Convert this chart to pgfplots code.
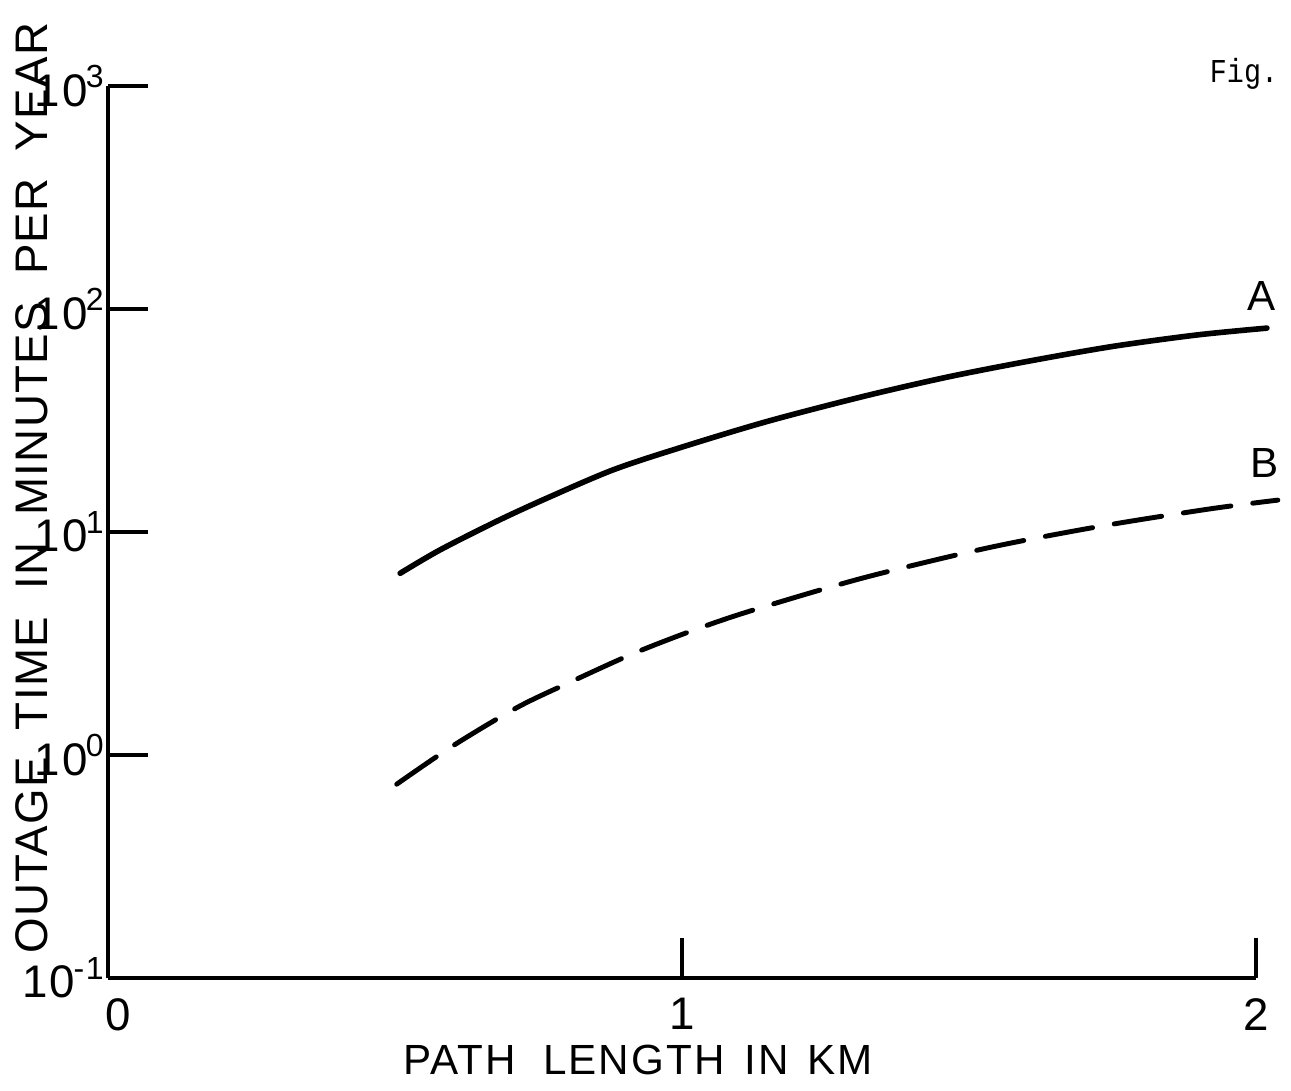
\documentclass[border=0pt]{standalone}
\usepackage{fontspec}
\setmainfont{Liberation Sans}
\newfontfamily\lettering{Liberation Sans}[LetterSpace=5]
\newfontfamily\letteringy{Liberation Sans}[LetterSpace=3]
\newfontfamily\mono{Liberation Mono}
\usepackage{pgfplots}
\pgfplotsset{compat=1.18}
\newcommand{\tp}[1]{10\kern-0.015cm\raisebox{0.03cm}{\textsuperscript{#1}}}
\begin{document}
\begin{tikzpicture}
\useasboundingbox (0,0) rectangle (12.91,10.90);
\begin{axis}[
 at={(1.08cm,1.12cm)}, anchor=south west,
 scale only axis, width=11.48cm, height=8.92cm,
 xmin=0, xmax=2, ymode=log, ymin=0.1, ymax=1000,
 axis x line*=bottom, axis y line*=left,
 axis line style={line width=1.1pt,-},
 xtick={0,1,2}, xticklabels={\hspace*{0.2cm}0,1,2},
 ytick={0.1,1,10,100,1000},
 yticklabels={\tp{-1},\tp{0},\tp{1},\tp{2},\tp{3}},
 yminorticks=false, minor y tick num=0,
 tick align=inside, major tick length=0.40cm,
 tick style={line width=1.1pt, black},
 ticklabel style={font=\lettering\fontsize{13}{15}\selectfont},
 xticklabel style={yshift=-0.08cm},
 yticklabel style={inner sep=0.5pt},
 clip=false,
]
\addplot[black, line width=1.6pt, smooth, line cap=round] coordinates {
(0.509,6.53) (0.578,8.3) (0.678,11.2) (0.765,14.2) (0.880,19.0) (0.997,23.9) (1.148,31.3) (1.315,40.5) (1.462,49.5) (1.606,58.5) (1.751,68.0) (1.897,76.5) (2.019,82.1)};
\addplot[black, line width=1.4pt, smooth, line cap=round, dash pattern=on 0.48cm off 0.22cm] coordinates {
(0.503,0.74) (0.601,1.10) (0.714,1.64) (0.810,2.15) (0.915,2.85) (1.019,3.62) (1.122,4.45) (1.314,6.21) (1.531,8.47) (1.728,10.6) (1.920,12.7) (2.038,13.9)};
\end{axis}
\node[rotate=90, font=\letteringy\fontsize{13}{15}\selectfont, inner sep=0pt] at (0.32,6.02)
 {OUTAGE\hspace{0.27cm}TIME\hspace{0.27cm}IN\hspace{0.27cm}MINUTES\hspace{0.27cm}PER\hspace{0.27cm}YEAR};
\node[font=\lettering\fontsize{12}{14}\selectfont, inner sep=0pt] at (6.38,0.30)
 {PATH\hspace{0.27cm}LENGTH\hspace{0.2cm}IN\hspace{0.18cm}KM};
\node[font=\lettering\fontsize{12}{14}\selectfont] at (12.62,7.94) {A};
\node[font=\lettering\fontsize{12}{14}\selectfont] at (12.65,6.27) {B};
\node[font=\mono\fontsize{9.5}{11}\selectfont] at (12.44,10.16) {\scalebox{0.85}[1]{Fig.}};
\end{tikzpicture}
\end{document}
